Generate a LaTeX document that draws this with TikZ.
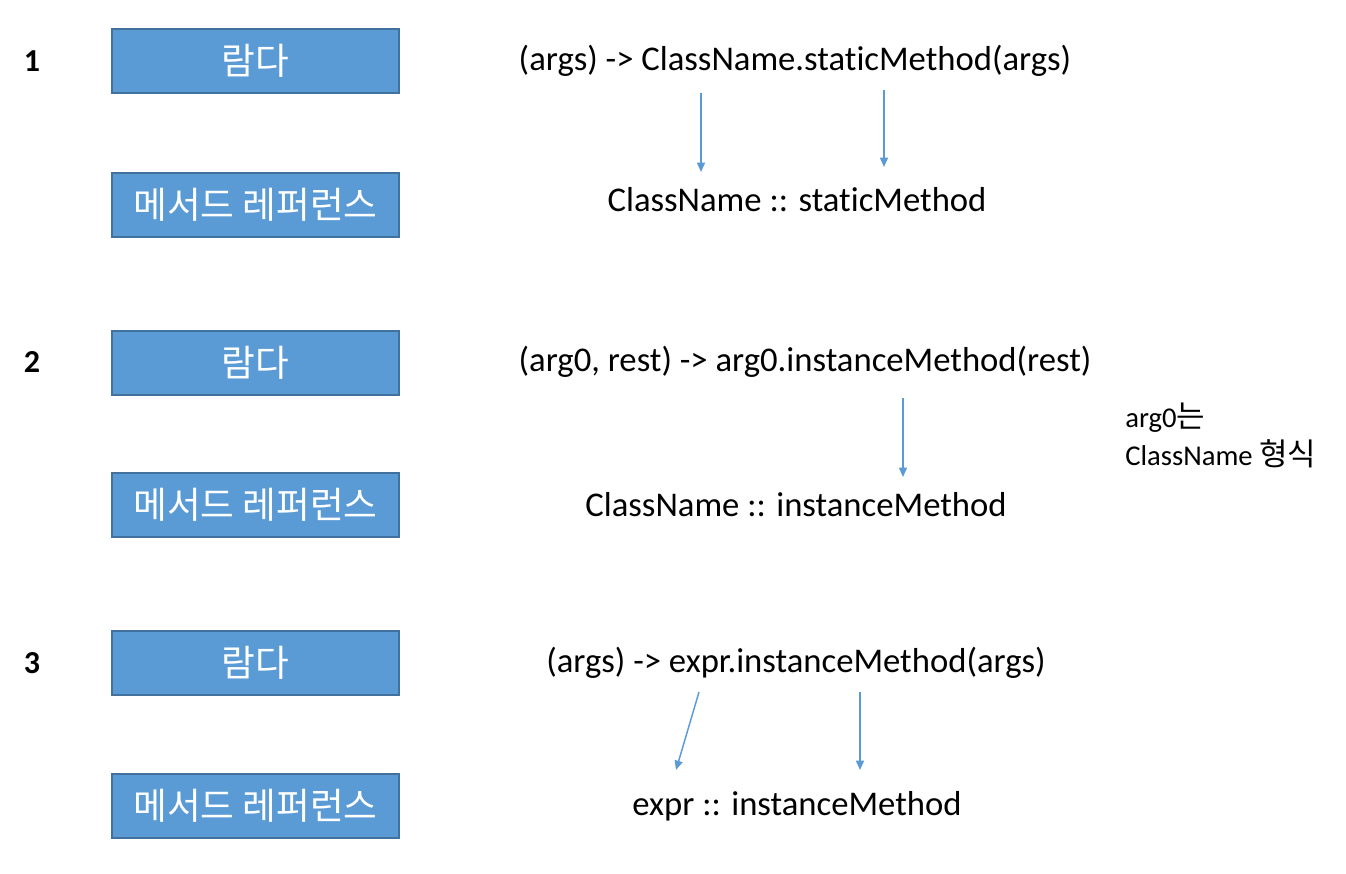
\documentclass[tikz,border=0pt]{standalone}
\usepackage{fontspec}
\setmainfont{Carlito}[Ligatures=NoCommon]
\newfontfamily\kr{Noto Sans CJK KR}[Scale=1.08]
\newfontfamily\krbox{Noto Sans CJK KR}
\usetikzlibrary{arrows.meta}
\definecolor{boxfill}{HTML}{5B9BD5}
\definecolor{boxline}{HTML}{41719C}
\definecolor{arrcol}{HTML}{5B9BD5}
\tikzset{
  bluebox/.style={draw=boxline, line width=1.5pt, fill=boxfill, minimum width=215pt, minimum height=47.5pt, inner sep=0pt, text=white, font=\krbox\fontsize{27.5}{32}\selectfont},
  numlabel/.style={inner sep=0pt, font=\bfseries\fontsize{24}{28}\selectfont},
  codetext/.style={inner sep=0pt, font=\fontsize{26}{30}\selectfont},
  notetext/.style={inner sep=0pt, align=left, font=\fontsize{21.5}{28.5}\selectfont},
  arr/.style={draw=arrcol, line width=1.1pt, -{Triangle[width=6pt,length=7pt]}}
}
\begin{document}
\begin{tikzpicture}[x=0.75pt, y=-0.75pt]
\useasboundingbox (0,0) rectangle (1346,874);
% section 1
\node[numlabel] (n1) at (32,61) {1};
\node[bluebox] (b1l) at (255.5,61) {람다};
\node[bluebox] (b1m) at (255.5,205) {메서드 레퍼런스};
\node[codetext] (l1) at (795,61) {(args) -> ClassName.staticMethod(args)};
\node[codetext] (m1) at (797,200) {ClassName :: staticMethod};
\coordinate (s1a) at (701,93);
\coordinate (e1a) at (701,172);
\coordinate (s1b) at (884,90);
\coordinate (e1b) at (884,167);
\draw[arr] (s1a) -- (e1a);
\draw[arr] (s1b) -- (e1b);
% section 2
\node[numlabel] (n2) at (32,362) {2};
\node[bluebox] (b2l) at (255.5,363) {람다};
\node[bluebox] (b2m) at (255.5,505) {메서드 레퍼런스};
\node[codetext] (l2) at (805,362) {(arg0, rest) -> arg0.instanceMethod(rest)};
\node[codetext] (m2) at (796,505) {ClassName :: instanceMethod};
\coordinate (s2a) at (903,398);
\coordinate (e2a) at (903,477);
\draw[arr] (s2a) -- (e2a);
\node[notetext, anchor=west] (note) at (1125,435) {arg0{\kr 는}\\ClassName {\kr 형식}};
% section 3
\node[numlabel] (n3) at (32,663) {3};
\node[bluebox] (b3l) at (255.5,663) {람다};
\node[bluebox] (b3m) at (255.5,806) {메서드 레퍼런스};
\node[codetext] (l3) at (796,663) {(args) -> expr.instanceMethod(args)};
\node[codetext] (m3) at (797,806) {expr :: instanceMethod};
\coordinate (s3a) at (699,692);
\coordinate (e3a) at (676,770);
\coordinate (s3b) at (860,692);
\coordinate (e3b) at (860,770);
\draw[arr] (s3a) -- (e3a);
\draw[arr] (s3b) -- (e3b);
\end{tikzpicture}
\end{document}
